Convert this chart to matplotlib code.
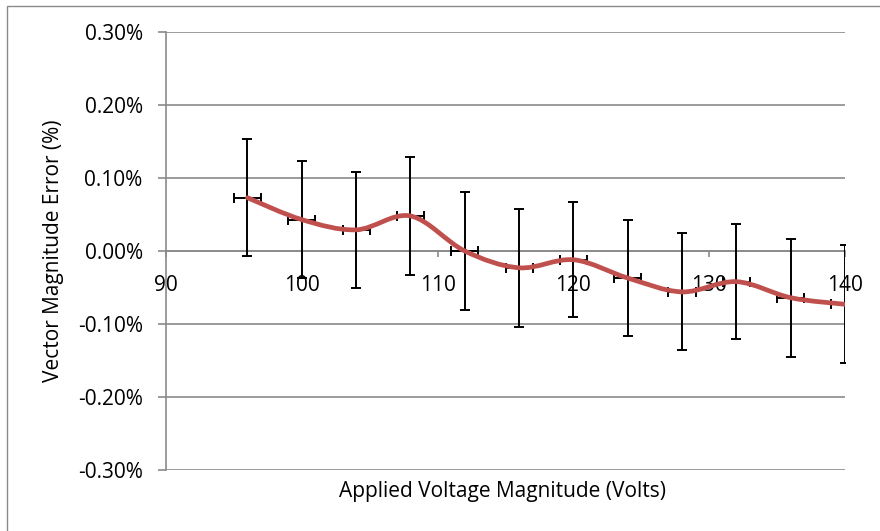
import numpy as np
import matplotlib
matplotlib.use("Agg")
import matplotlib.pyplot as plt
from matplotlib.path import Path
from matplotlib.patches import PathPatch, Rectangle
from matplotlib.ticker import FuncFormatter

# values
volts = [96, 100, 104, 108, 112, 116, 120, 124, 128, 132, 136, 140]
vm_error = [0.073, 0.043, 0.029, 0.048, 0.000, -0.023, -0.012, -0.037, -0.056, -0.042, -0.064, -0.073]
y_err = [0.080, 0.080, 0.079, 0.081, 0.081, 0.081, 0.079, 0.079, 0.080, 0.079, 0.081, 0.081]
x_err = 1.0
x_ticks = [90, 100, 110, 120, 130, 140]
y_ticks = [-0.3, -0.2, -0.1, 0.0, 0.1, 0.2, 0.3]

grey = "#8a8a8a"
red = "#C0504D"
plt.rcParams['font.family'] = ['Open Sans', 'DejaVu Sans']

fig = plt.figure(figsize=(8.8, 5.31), dpi=100)
ax = fig.add_axes([166 / 880, 1 - 470 / 531, 679 / 880, 438 / 531])

# outer chart frame (only left/top edges show in the reference)
fig.patches.append(Rectangle((7 / 880, -0.5), 2, 1.5 - 6 / 531, transform=fig.transFigure,
                             fill=False, edgecolor=grey, lw=1.0))

ax.errorbar(volts, vm_error, yerr=y_err, xerr=x_err, fmt='none', ecolor='black',
            elinewidth=1.4, capsize=3.6, capthick=1.4, zorder=3)

# Excel-style smoothed line: cubic Bezier through the points (Catmull-Rom tangents)
pts = np.column_stack([volts, vm_error])
verts = [pts[0]]
codes = [Path.MOVETO]
for i in range(len(pts) - 1):
    p_prev = pts[max(i - 1, 0)]
    p0, p1 = pts[i], pts[i + 1]
    p_next = pts[min(i + 2, len(pts) - 1)]
    verts += [p0 + (p1 - p_prev) / 6, p1 - (p_next - p0) / 6, p1]
    codes += [Path.CURVE4] * 3
ax.add_patch(PathPatch(Path(verts, codes), fill=False, edgecolor=red, lw=3.4,
                       capstyle='round', zorder=4))

ax.set_xlim(90, 140)
ax.set_ylim(-0.3, 0.3)
ax.set_xticks(x_ticks)
ax.set_yticks(y_ticks)
ax.yaxis.set_major_formatter(FuncFormatter(lambda v, _: f"{v:.2f}%"))

ax.grid(axis='y', color=grey, lw=1.2)
ax.set_axisbelow(True)
for s in ['top', 'right']:
    ax.spines[s].set_visible(False)
ax.spines['bottom'].set_position(('data', 0))
ax.spines['bottom'].set_color(grey)
ax.spines['left'].set_color(grey)
ax.spines['bottom'].set_linewidth(1.2)
ax.spines['left'].set_linewidth(1.2)

ax.tick_params(axis='x', direction='out', length=4.5, width=1.2, color=grey, pad=12.5, labelsize=15)
ax.tick_params(axis='y', direction='out', length=5.8, width=1.2, color=grey, pad=11, labelsize=15)

ax.set_xlabel("Applied Voltage Magnitude (Volts)", fontsize=15)
ax.xaxis.set_label_coords(0.495, -0.024)
ax.set_ylabel("Vector Magnitude Error (%)", fontsize=15)
ax.yaxis.set_label_coords(-0.150, 0.5)

fig.savefig("out.png", dpi=100)
